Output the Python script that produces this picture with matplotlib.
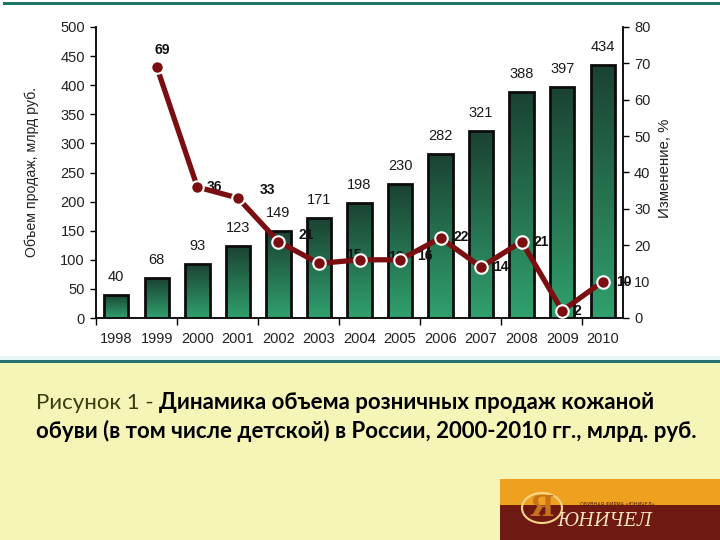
import numpy as np
import matplotlib.pyplot as plt
from matplotlib.patches import Rectangle, Circle
from matplotlib.colors import LinearSegmentedColormap

# ---------------- Data ---------------- #

years = ['1998', '1999', '2000', '2001', '2002', '2003', '2004',
         '2005', '2006', '2007', '2008', '2009', '2010']
sales = [40, 68, 93, 123, 149, 171, 198, 230, 282, 321, 388, 397, 434]
change_years = years[1:]
change = [69, 36, 33, 21, 15, 16, 16, 22, 14, 21, 2, 10]

# label offsets for the % line (points), set by hand like in the original
chg_offsets = [(4, 12), (12, 0), (21, 6), (20, 5), (25, 6), (26, 2),
               (18, 3), (14.5, 1), (14.5, 0), (14, 0), (11, 0), (15, 0)]

# ---------------- Figure ---------------- #

fig = plt.figure(figsize=(7.2, 5.4), dpi=100)
fig.patch.set_facecolor('white')
fig.patches.append(Rectangle((0, 0), 1, 1 - 363 / 540, transform=fig.transFigure,
                             facecolor='#f6f5b8', edgecolor='none', zorder=0))
fig.patches.append(Rectangle((0, 1 - 363 / 540), 1, 3 / 540, transform=fig.transFigure,
                             facecolor='#2a7272', edgecolor='none', zorder=0))
fig.patches.append(Rectangle((0, 1 - 360 / 540), 1, 4 / 540, transform=fig.transFigure,
                             facecolor='#e4f6f6', edgecolor='none', zorder=0))
fig.patches.append(Rectangle((0.004, 1 - 5 / 540), 0.996, 3 / 540, transform=fig.transFigure,
                             facecolor='#1f7468', edgecolor='none', zorder=0))

ax = fig.add_axes([96 / 720, 1 - 318 / 540, 527 / 720, 291 / 540])
ax2 = ax.twinx()

x = np.arange(len(years))
xc = np.arange(1, len(years))
w = 0.6

grad = LinearSegmentedColormap.from_list('g', ['#30a06e', '#1b4232'])
gimg = np.linspace(0, 1, 256).reshape(-1, 1)

bars = ax.bar(x, sales, width=w, facecolor='none', edgecolor='#0c0c0c',
              linewidth=2, zorder=3)
for b in bars:
    im = ax.imshow(gimg, cmap=grad, aspect='auto', origin='lower', zorder=2,
                   extent=[b.get_x(), b.get_x() + b.get_width(), 0, b.get_height()])
    im.set_clip_path(b)

for xi, v in zip(x, sales):
    ax.annotate(str(v), (xi, v), xytext=(0, 8), textcoords='offset points',
                ha='center', va='bottom', fontsize=10.5, color='#1a1a1a',
                family='Liberation Sans')

ax.set_xlim(-0.5, len(years) - 0.5)
ax.set_ylim(0, 500)
ax.set_yticks(np.arange(0, 501, 50))
ax.set_xticks(x)
ax.set_xticklabels(years)
ax.set_xticks(np.arange(-0.5, len(years), 2), minor=True)
ax.tick_params(axis='x', which='major', length=0, pad=10)
ax.tick_params(axis='x', which='minor', length=5, width=1, direction='out')
ax.tick_params(axis='y', length=4, width=1, direction='out', pad=4)

ax2.set_ylim(0, 80)
ax2.set_yticks(np.arange(0, 81, 10))
ax2.tick_params(axis='y', length=4, width=1, direction='out', pad=4)

for a in (ax, ax2):
    a.spines['top'].set_visible(False)
    for s in ('left', 'right', 'bottom'):
        a.spines[s].set_linewidth(1.2)
        a.spines[s].set_color('#111111')
    for lab in a.get_xticklabels() + a.get_yticklabels():
        lab.set_family('Liberation Sans')
        lab.set_fontsize(10.5)
        lab.set_color('#222222')

ax.set_zorder(1)
ax2.set_zorder(2)
ax.patch.set_visible(False)
ax2.patch.set_visible(False)

ax2.plot(xc, change, color='#7a0e10', linewidth=3.8, marker='o',
         markersize=9, markerfacecolor='#7a0e10', markeredgecolor='white',
         markeredgewidth=1.5, solid_capstyle='round', zorder=3)

# line labels: above the bars, under the line and markers
for xi, v, off in zip(xc, change, chg_offsets):
    ax2.annotate(str(v), (xi, v), xytext=off, textcoords='offset points',
                 ha='center', va='center', fontsize=10, fontweight='bold',
                 color='#111111', family='Liberation Sans', zorder=2,
                 annotation_clip=False)

fig.text(32 / 720, 1 - 172 / 540, 'Объем продаж, млрд руб.', rotation=90,
         ha='center', va='center', fontsize=10.2, family='Liberation Sans',
         color='#222222')
fig.text(665 / 720, 1 - 168 / 540, 'Изменение, %', rotation=90,
         ha='center', va='center', fontsize=10.8, family='Liberation Sans',
         color='#222222')

# ---------------- Caption ---------------- #

t1 = fig.text(36 / 720, 1 - 413 / 540, 'Рисунок 1 - ', fontsize=16,
              family='Lato', color='#3c3c12', va='bottom')
ax.annotate('Динамика объема розничных продаж кожаной', xy=(1, 0), xycoords=t1,
            ha='left', va='bottom', fontsize=16, family='Lato',
            fontweight='bold', color='black', annotation_clip=False)
fig.text(36 / 720, 1 - 442 / 540,
         'обуви (в том числе детской) в России, 2000-2010 гг., млрд. руб.',
         fontsize=16, family='Lato', fontweight='bold', color='black',
         va='bottom')

# ---------------- Logo ---------------- #

fig.patches.append(Rectangle((500 / 720, 0), 220 / 720, 35 / 540,
                             transform=fig.transFigure, facecolor='#6e1a12',
                             edgecolor='none', zorder=1))
fig.patches.append(Rectangle((500 / 720, 35 / 540), 220 / 720, 26 / 540,
                             transform=fig.transFigure, facecolor='#eea11e',
                             edgecolor='none', zorder=1))
fig.patches.append(Circle((542 / 720, 1 - 508 / 540), 20 / 720,
                          transform=fig.transFigure, facecolor='none',
                          edgecolor='#f7d58a', linewidth=1.5, zorder=2))
fig.text(542 / 720, 1 - 508 / 540, 'Я', fontsize=20, family='DejaVu Serif',
         fontweight='bold', color='#c8731a', ha='center', va='center', zorder=3)
fig.text(580 / 720, 1 - 504 / 540, 'ОБУВНАЯ ФИРМА «ЮНИЧЕЛ»', fontsize=3.5,
         color='#4a1608', ha='left', va='center', zorder=3)
fig.text(557 / 720, 1 - 521 / 540, 'ЮНИЧЕЛ', fontsize=13, family='DejaVu Serif',
         style='italic', color='#f8e8c0', ha='left', va='center', zorder=3)

fig.savefig('out.png', dpi=100)
